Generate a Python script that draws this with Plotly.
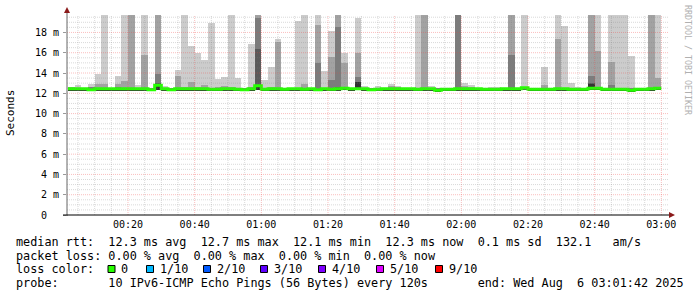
import plotly.graph_objects as go
from datetime import datetime, timedelta

# ---------------- data (ms) ----------------
bin_start = datetime(2025, 8, 6, 0, 2, 0)
step_seconds = 120

rtt_max = [12.65, 12.8, 12.5, 12.9, 13.9, 25, 12.5, 13.7, 25, 25,
           12.8, 25, 12.5, 25, 12.7, 12.5, 14.3, 25, 16.7, 16.0,
           15.25, 18.9, 13.4, 13.6, 25, 13.5, 12.5, 16.85, 25, 13.35,
           14.6, 17.35, 12.5, 12.5, 19.15, 25, 12.5, 25, 14.15, 18.1,
           25, 15.95, 12.5, 19.4, 12.7, 12.5, 12.7, 12.5, 12.9, 12.7,
           12.5, 12.5, 25, 25, 12.7, 12.5, 12.5, 12.5, 25, 13.05,
           12.8, 12.5, 12.5, 12.6, 12.6, 12.5, 25, 12.5, 25, 12.5,
           12.5, 14.6, 12.5, 25, 18.65, 13.05, 12.6, 12.5, 25, 25,
           12.5, 25, 25, 25, 15.7, 12.5, 12.5, 25, 25]
rtt_p9 = [12.6, 12.55, 12.5, 12.65, 12.9, 12.9, 12.5, 12.9, 13.25, 25,
          12.55, 15.8, 12.5, 25, 12.55, 12.5, 13.7, 12.6, 13.1, 12.6,
          12.8, 12.55, 12.6, 12.7, 12.65, 12.55, 12.5, 12.6, 25, 12.55,
          12.65, 17.1, 12.5, 12.5, 12.55, 12.9, 12.5, 18.7, 12.55, 15.6,
          25, 14.95, 12.5, 15.95, 12.55, 12.5, 12.55, 12.5, 12.7, 12.6,
          12.5, 12.5, 12.55, 25, 12.55, 12.5, 12.5, 12.5, 25, 12.7,
          12.65, 12.5, 12.5, 12.5, 12.55, 12.5, 25, 12.5, 12.6, 12.5,
          12.5, 12.8, 12.5, 17.4, 12.55, 12.55, 12.5, 12.5, 25, 16.2,
          12.5, 15.1, 12.55, 12.55, 12.55, 12.5, 12.5, 25, 13.5]
rtt_p8 = [12.5, 12.5, 12.5, 12.6, 12.5, 12.5, 12.5, 12.6, 12.5, 12.5,
          12.5, 12.5, 12.5, 13.9, 12.5, 12.5, 12.5, 12.5, 12.5, 12.5,
          12.5, 12.5, 12.5, 12.5, 12.5, 12.5, 12.5, 12.5, 19.4, 12.5,
          12.5, 12.5, 12.5, 12.5, 12.5, 12.5, 12.5, 14.95, 12.5, 13.3,
          18.55, 12.5, 12.5, 13.6, 12.5, 12.5, 12.5, 12.5, 12.5, 12.5,
          12.5, 12.5, 12.5, 12.5, 12.5, 12.5, 12.5, 12.5, 25, 12.5,
          12.5, 12.5, 12.5, 12.5, 12.5, 12.5, 15.8, 12.5, 12.5, 12.5,
          12.5, 12.5, 12.5, 12.5, 12.5, 12.5, 12.5, 12.5, 13.7, 12.5,
          12.5, 12.8, 12.5, 12.5, 12.5, 12.5, 12.5, 12.5, 12.5]
rtt_p7 = [12.45, 12.45, 12.45, 12.45, 12.45, 12.45, 12.45, 12.45, 12.45, 12.45,
          12.45, 12.45, 12.45, 13.0, 12.45, 12.45, 12.45, 12.45, 12.45, 12.45,
          12.45, 12.45, 12.45, 12.45, 12.45, 12.45, 12.45, 12.45, 16.4, 12.45,
          12.45, 12.45, 12.45, 12.45, 12.45, 12.45, 12.45, 12.45, 12.45, 12.45,
          12.6, 12.45, 12.45, 13.15, 12.45, 12.45, 12.45, 12.45, 12.45, 12.45,
          12.45, 12.45, 12.45, 12.45, 12.45, 12.45, 12.45, 12.45, 12.45, 12.45,
          12.45, 12.45, 12.45, 12.45, 12.45, 12.45, 12.45, 12.45, 12.45, 12.45,
          12.45, 12.45, 12.45, 12.45, 12.45, 12.45, 12.45, 12.45, 13.05, 12.45,
          12.45, 12.45, 12.45, 12.45, 12.45, 12.45, 12.45, 12.45, 12.45]
rtt_p6 = [12.4, 12.4, 12.4, 12.4, 12.4, 12.4, 12.4, 12.4, 12.4, 12.4,
          12.4, 12.4, 12.4, 12.95, 12.4, 12.4, 12.4, 12.4, 12.4, 12.4,
          12.4, 12.4, 12.4, 12.4, 12.4, 12.4, 12.4, 12.4, 12.8, 12.4,
          12.4, 12.4, 12.4, 12.4, 12.4, 12.4, 12.4, 12.4, 12.4, 12.4,
          12.4, 12.4, 12.4, 13.1, 12.4, 12.4, 12.4, 12.4, 12.4, 12.4,
          12.4, 12.4, 12.4, 12.4, 12.4, 12.4, 12.4, 12.4, 12.4, 12.4,
          12.4, 12.4, 12.4, 12.4, 12.4, 12.4, 12.4, 12.4, 12.4, 12.4,
          12.4, 12.4, 12.4, 12.4, 12.4, 12.4, 12.4, 12.4, 12.9, 12.4,
          12.4, 12.4, 12.4, 12.4, 12.4, 12.4, 12.4, 12.4, 12.4]
rtt_median = [12.45, 12.45, 12.45, 12.35, 12.45, 12.45, 12.45, 12.45, 12.45, 12.45,
              12.45, 12.45, 12.35, 12.8, 12.45, 12.35, 12.45, 12.45, 12.45, 12.45,
              12.45, 12.4, 12.4, 12.45, 12.45, 12.4, 12.35, 12.45, 12.75, 12.4,
              12.45, 12.45, 12.4, 12.45, 12.45, 12.4, 12.45, 12.35, 12.45, 12.4,
              12.45, 12.5, 12.45, 12.45, 12.45, 12.35, 12.4, 12.45, 12.45, 12.45,
              12.45, 12.45, 12.4, 12.45, 12.45, 12.3, 12.4, 12.4, 12.45, 12.45,
              12.45, 12.45, 12.4, 12.4, 12.4, 12.45, 12.45, 12.45, 12.55, 12.4,
              12.4, 12.4, 12.4, 12.45, 12.45, 12.4, 12.4, 12.4, 12.5, 12.5,
              12.4, 12.4, 12.4, 12.4, 12.3, 12.4, 12.4, 12.45, 12.5]
rtt_min = [12.3, 12.3, 12.25, 12.2, 12.3, 12.3, 12.3, 12.3, 12.3, 12.3,
           12.3, 12.3, 12.2, 12.3, 12.3, 12.2, 12.3, 12.3, 12.3, 12.3,
           12.3, 12.3, 12.25, 12.3, 12.3, 12.25, 12.2, 12.3, 12.35, 12.3,
           12.3, 12.3, 12.25, 12.3, 12.3, 12.3, 12.3, 12.2, 12.3, 12.3,
           12.3, 12.35, 12.3, 12.3, 12.3, 12.2, 12.3, 12.3, 12.3, 12.3,
           12.3, 12.3, 12.3, 12.3, 12.3, 12.15, 12.3, 12.3, 12.3, 12.3,
           12.3, 12.3, 12.3, 12.3, 12.3, 12.3, 12.3, 12.3, 12.4, 12.3,
           12.3, 12.3, 12.3, 12.3, 12.3, 12.3, 12.3, 12.3, 12.35, 12.35,
           12.3, 12.3, 12.3, 12.3, 12.15, 12.3, 12.3, 12.3, 12.35]

y_tick_values = [0, 2, 4, 6, 8, 10, 12, 14, 16, 18]
y_tick_labels = ["0\u00a0\u00a0", "2 m", "4 m", "6 m", "8 m", "10 m", "12 m", "14 m", "16 m", "18 m"]
x_tick_labels = ["00:20", "00:40", "01:00", "01:20", "01:40", "02:00", "02:20", "02:40", "03:00"]

loss_labels = ["0", "1/10", "2/10", "3/10", "4/10", "5/10", "9/10"]
loss_colors = ["#26ff00", "#00b8ff", "#0059ff", "#5e00ff", "#7e00ff", "#dd00ff", "#ff0000"]

legend_line1 = "median rtt:  12.3 ms avg  12.7 ms max  12.1 ms min  12.3 ms now  0.1 ms sd  132.1   am/s"
legend_line2 = "packet loss: 0.00 % avg  0.00 % max  0.00 % min  0.00 % now"
legend_line4 = "probe:       10 IPv6-ICMP Echo Pings (56 Bytes) every 120s       end: Wed Aug  6 03:01:42 2025"

smoke_colors = ["#cccccc", "#a2a2a2", "#7c7c7c", "#5a5a5a", "#333333"]
median_color = "#26ff00"

# ---------------- geometry ----------------
W, H = 697, 297
L, R, T, B = 67, 667, 15, 215
t_start = datetime(2025, 8, 6, 0, 1, 42)
t_end = datetime(2025, 8, 6, 3, 1, 42)
y_top = 19.72
MONO = "DejaVu Sans Mono"


def px(x):
    return (x - L) / (R - L)


def py(y):
    return (B - y) / (B - T)


n = len(rtt_max)
starts = [bin_start + timedelta(seconds=step_seconds * i) for i in range(n)]
centers = [s + timedelta(seconds=step_seconds / 2) for s in starts]
edges = starts + [starts[-1] + timedelta(seconds=step_seconds)]

fig = go.Figure()
for top, col in zip([rtt_max, rtt_p9, rtt_p8, rtt_p7, rtt_p6], smoke_colors):
    fig.add_trace(go.Bar(
        x=centers, y=[t - b for t, b in zip(top, rtt_min)], base=rtt_min,
        width=step_seconds * 1000, marker=dict(color=col, line=dict(width=0)),
        showlegend=False, hoverinfo="skip"))

fig.add_trace(go.Scatter(
    x=edges, y=rtt_median + [rtt_median[-1]], mode="lines",
    line=dict(color=median_color, width=3, shape="hv"), showlegend=False))

shapes = []
# grid above the smoke (as rrdtool draws it)
minor_grey = "rgba(130,130,130,0.3)"
major_red = "rgba(240,70,70,0.35)"
t = datetime(2025, 8, 6, 0, 5, 0)
while t <= t_end:
    major = t.minute % 20 == 0
    shapes.append(dict(type="line", xref="x", yref="paper", x0=t, x1=t, y0=0, y1=1,
                       line=dict(color=major_red if major else minor_grey, width=1, dash="1px,1px"),
                       layer="above"))
    t += timedelta(minutes=5)
for k in range(1, 40):
    v = k * 0.5
    major = (k % 4 == 0)
    shapes.append(dict(type="line", xref="paper", yref="y", x0=0, x1=px(668), y0=v, y1=v,
                       line=dict(color=major_red if major else minor_grey, width=1, dash="1px,1px"),
                       layer="above"))

# axes lines + arrows
shapes.append(dict(type="line", xref="paper", yref="paper", x0=px(L), x1=px(L), y0=py(B + 1), y1=py(9),
                   line=dict(color="#666666", width=1), layer="above"))
shapes.append(dict(type="line", xref="paper", yref="paper", x0=px(63), x1=px(671), y0=py(B), y1=py(B),
                   line=dict(color="#000000", width=1), layer="above"))
shapes.append(dict(type="path", xref="paper", yref="paper",
                   path=f"M {px(64)} {py(13)} L {px(70)} {py(13)} L {px(67)} {py(7)} Z",
                   fillcolor="#8b1a1a", line=dict(width=0), layer="above"))
shapes.append(dict(type="path", xref="paper", yref="paper",
                   path=f"M {px(669)} {py(212)} L {px(669)} {py(218)} L {px(675)} {py(215)} Z",
                   fillcolor="#8b1a1a", line=dict(width=0), layer="above"))

annotations = []
LEG_SIZE = 11.8
row_y = [241.5, 255.5, 269, 283]
annotations.append(dict(text=legend_line1.replace(" ", "\u00a0"), x=px(15), y=py(row_y[0])))
annotations.append(dict(text=legend_line2.replace(" ", "\u00a0"), x=px(15), y=py(row_y[1])))
annotations.append(dict(text="loss\u00a0color:", x=px(15), y=py(row_y[2])))
annotations.append(dict(text=legend_line4.replace(" ", "\u00a0"), x=px(15), y=py(row_y[3])))
box_left = [108, 146.5, 203.5, 260.5, 318.5, 376.5, 435.5]
for bx, lab, col in zip(box_left, loss_labels, loss_colors):
    shapes.append(dict(type="rect", xref="paper", yref="paper",
                       x0=px(bx), x1=px(bx + 7), y0=py(row_y[2] + 3.5), y1=py(row_y[2] - 3.5),
                       fillcolor=col, line=dict(color="#000000", width=1)))
    annotations.append(dict(text=lab, x=px(bx + 12), y=py(row_y[2])))
for a in annotations:
    a.update(xref="paper", yref="paper", xanchor="left", yanchor="middle", showarrow=False,
             font=dict(family=MONO, size=LEG_SIZE, color="#000000"), borderpad=0)

annotations.append(dict(text="Seconds", xref="paper", yref="paper", x=px(10), y=py(113),
                        textangle=-90, showarrow=False, xanchor="center", yanchor="middle",
                        font=dict(family=MONO, size=11, color="#000000")))
annotations.append(dict(text="RRDTOOL\u00a0/\u00a0TOBI\u00a0OETIKER", xref="paper", yref="paper",
                        x=px(688), y=py(60), textangle=90, showarrow=False,
                        xanchor="center", yanchor="middle",
                        font=dict(family=MONO, size=8.3, color="#b0b0b0")))

x_tick_vals = [datetime(2025, 8, 6, 0, 0, 0) + timedelta(minutes=20 * (i + 1)) for i in range(len(x_tick_labels))]

fig.update_layout(
    width=W, height=H, margin=dict(l=L, r=W - R, t=T, b=H - B),
    paper_bgcolor="#ffffff", plot_bgcolor="#ffffff",
    barmode="overlay", bargap=0, showlegend=False,
    shapes=shapes, annotations=annotations,
    xaxis=dict(type="date", range=[t_start, t_end], tickvals=x_tick_vals, ticktext=x_tick_labels,
               showgrid=False, zeroline=False, showline=False, ticks="",
               tickfont=dict(family=MONO, size=10, color="#000000"), ticklabelstandoff=2),
    yaxis=dict(range=[0, y_top], tickvals=y_tick_values, ticktext=y_tick_labels,
               showgrid=False, zeroline=False, showline=False, ticks="outside", ticklen=3,
               tickcolor="#999999",
               tickfont=dict(family=MONO, size=10, color="#000000"), ticklabelstandoff=2),
)

fig.write_html("out.html")
